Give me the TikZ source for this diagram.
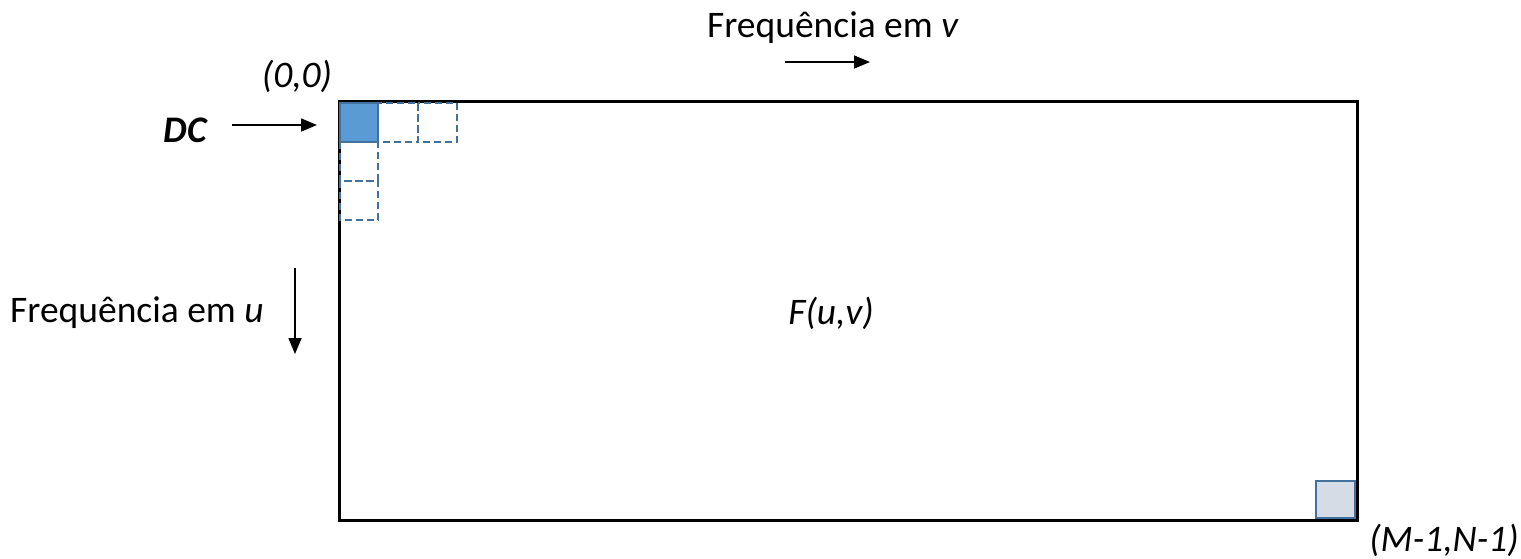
\documentclass[tikz,border=0pt]{standalone}
\usepackage{fontspec}
\setmainfont{Carlito}
\usetikzlibrary{arrows.meta}
\definecolor{bluefill}{HTML}{5B9BD5}
\definecolor{blueline}{HTML}{41719C}
\definecolor{grayfill}{HTML}{D6DCE5}
\tikzset{
  lbl/.style={font=\fontsize{37.5}{42}\selectfont, inner sep=0pt},
  arr/.style={-{Triangle[length=16pt,width=13pt]}, line width=1.5pt},
  cell/.style={draw=blueline, line width=2.5pt, dash pattern=on 7pt off 4pt},
}
\begin{document}
\begin{tikzpicture}[x=1pt,y=-1pt]
\useasboundingbox (0,0) rectangle (1521,558);
\draw[line width=3pt] (339,101) rectangle (1357,520);
\node[lbl] (fv) at (833,28) {Frequência em \textit{v}};
\coordinate (a1) at (785,62); \coordinate (a2) at (870,62);
\draw[arr] (a1) -- (a2);
\node[lbl] (fu) at (137,313) {Frequência em \textit{u}};
\coordinate (b1) at (295,268); \coordinate (b2) at (295,354);
\draw[arr] (b1) -- (b2);
\node[lbl] (dc) at (186,130) {\textbf{\textit{DC}}};
\coordinate (c1) at (232,125); \coordinate (c2) at (317,125);
\draw[arr] (c1) -- (c2);
\node[lbl] (zero) at (297,76) {\textit{(0,0)}};
\node[lbl] (F) at (831,313) {\textit{F(u,v)}};
\node[lbl] (mn) at (1444,540) {\textit{(M-1,N-1)}};
\draw[cell] (378,103) rectangle (418,142);
\draw[cell] (418,103) rectangle (457,142);
\draw[cell] (340,142) rectangle (378,181);
\draw[cell] (340,181) rectangle (378,220);
\draw[draw=blueline, fill=bluefill, line width=2pt] (340,103) rectangle (378,142);
\draw[draw=blueline, fill=grayfill, line width=2pt] (1316,481) rectangle (1355,518);
\end{tikzpicture}
\end{document}
